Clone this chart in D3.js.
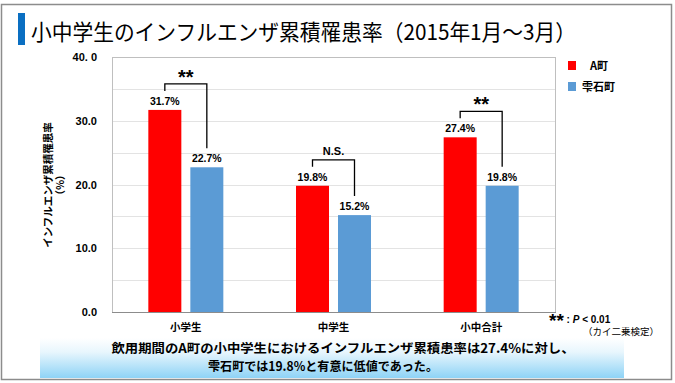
<!DOCTYPE html>
<html>
<head>
<meta charset="utf-8">
<script src="https://cdn.jsdelivr.net/npm/d3@7"></script>
<style>
  body { margin:0; background:#fff; }
  svg text { font-family: "Liberation Sans", Arial, "Noto Sans CJK JP", sans-serif; }
</style>
</head>
<body>
<svg id="chart" width="675" height="383"></svg>
<script>
// ---- data ----
var categories = ["小学生", "中学生", "小中合計"];
var seriesNames = ["A町", "雫石町"];
var townA = [31.7, 19.8, 27.4];
var shizukuishi = [22.7, 15.2, 19.8];
var sigLabels = ["**", "N.S.", "**"];
var yTicks = [0, 10, 20, 30, 40];
var yTickLabels = ["0.0", "10.0", "20.0", "30.0", "40. 0"];
var gridValues = [5, 10, 15, 20, 25, 30, 35];
var colors = ["#ff0000", "#5b9bd5"];

var svg = d3.select("#chart");
var jp = '"Noto Sans CJK JP", "Liberation Sans", sans-serif';

// outer frame
svg.append("rect").attr("x", 1.5).attr("y", 4.5).attr("width", 670).attr("height", 375)
  .attr("fill", "none").attr("stroke", "#8c8c8c").attr("stroke-width", 1.5);

// title
svg.append("rect").attr("x", 18).attr("y", 13).attr("width", 7).attr("height", 32).attr("fill", "#0a6fc2");
svg.append("text").attr("x", 31).attr("y", 40)
  .attr("style", "font-family:" + jp + ";font-size:22px;fill:#000")
  .attr("textLength", 545).attr("lengthAdjust", "spacingAndGlyphs")
  .text("小中学生のインフルエンザ累積罹患率（2015年1月～3月）");

// bottom message box
var defs = svg.append("defs");
var grad = defs.append("linearGradient").attr("id", "msgGrad")
  .attr("x1", "0%").attr("y1", "0%").attr("x2", "0%").attr("y2", "100%");
grad.append("stop").attr("offset", "0").attr("stop-color", "#ffffff");
grad.append("stop").attr("offset", "0.35").attr("stop-color", "#e8f6fd");
grad.append("stop").attr("offset", "1").attr("stop-color", "#8ed3f6");
svg.append("rect").attr("x", 40).attr("y", 338).attr("width", 584).attr("height", 40).attr("fill", "url(#msgGrad)");
svg.append("text").attr("x", 343).attr("y", 352.5).attr("text-anchor", "middle")
  .attr("style", "font-family:" + jp + ";font-size:12.5px;font-weight:bold;fill:#000")
  .attr("textLength", 463).attr("lengthAdjust", "spacingAndGlyphs")
  .text("飲用期間のA町の小中学生におけるインフルエンザ累積患率は27.4%に対し、");
svg.append("text").attr("x", 323).attr("y", 370.5).attr("text-anchor", "middle")
  .attr("style", "font-family:" + jp + ";font-size:12.5px;font-weight:bold;fill:#000")
  .attr("textLength", 230).attr("lengthAdjust", "spacingAndGlyphs")
  .text("雫石町では19.8%と有意に低値であった。");

// plot area
var plot = {left: 112, top: 57, right: 555, bottom: 312};
var x = d3.scaleBand().domain(categories).range([plot.left, plot.right]);
var y = d3.scaleLinear().domain([0, 40]).range([plot.bottom, plot.top]);
var barW = 33, gap = 9;

svg.append("rect").attr("x", plot.left + 0.5).attr("y", plot.top + 0.5)
  .attr("width", plot.right - plot.left).attr("height", plot.bottom - plot.top)
  .attr("fill", "none").attr("stroke", "#bfbfbf");

svg.selectAll(".grid").data(gridValues).enter().append("line")
  .attr("x1", plot.left + 1).attr("x2", plot.right)
  .attr("y1", function(d){ return Math.round(y(d)) + 0.5; })
  .attr("y2", function(d){ return Math.round(y(d)) + 0.5; })
  .attr("stroke", "#e3e3e3");

// y axis labels
var yAxis = d3.axisLeft(y).tickValues(yTicks).tickSize(0).tickPadding(0)
  .tickFormat(function(d, i){ return yTickLabels[i]; });
var gy = svg.append("g").attr("transform", "translate(97,0)").call(yAxis);
gy.select(".domain").remove();
gy.selectAll("text").attr("style", "font-family:'Liberation Sans',Arial,sans-serif;font-size:11px;font-weight:bold;fill:#000");

// y axis title
var yt = svg.append("text").attr("transform", "translate(52,185) rotate(-90)")
  .attr("text-anchor", "middle")
  .attr("style", "font-family:" + jp + ";font-size:10.5px;font-weight:bold;fill:#000");
yt.append("tspan").attr("x", 0).attr("y", 0).text("インフルエンザ累積罹患率");
yt.append("tspan").attr("x", 0).attr("y", 12).text("（%）");

// bars
var series = [townA, shizukuishi];
series.forEach(function(vals, s){
  var g = svg.append("g");
  g.selectAll("rect").data(vals).enter().append("rect")
    .attr("x", function(d, i){
      var c = x(categories[i]) + x.bandwidth() / 2;
      return s === 0 ? c - gap / 2 - barW : c + gap / 2;
    })
    .attr("y", function(d){ return y(d); })
    .attr("width", barW)
    .attr("height", function(d){ return plot.bottom - y(d); })
    .attr("fill", colors[s]);
  g.selectAll("text").data(vals).enter().append("text")
    .attr("x", function(d, i){
      var c = x(categories[i]) + x.bandwidth() / 2;
      return s === 0 ? c - gap / 2 - barW / 2 : c + gap / 2 + barW / 2;
    })
    .attr("y", function(d){ return y(d) - 5; })
    .attr("text-anchor", "middle")
    .attr("style", "font-family:'Liberation Sans',Arial,sans-serif;font-size:10.5px;font-weight:bold;fill:#000")
    .text(function(d){ return d.toFixed(1) + "%"; });
});

// x axis line + labels
svg.append("line").attr("x1", plot.left).attr("x2", plot.right + 1)
  .attr("y1", plot.bottom + 0.5).attr("y2", plot.bottom + 0.5).attr("stroke", "#8c8c8c");
svg.selectAll(".xl").data(categories).enter().append("text")
  .attr("x", function(d){ return x(d) + x.bandwidth() / 2; })
  .attr("y", 331).attr("text-anchor", "middle")
  .attr("style", "font-family:" + jp + ";font-size:10.5px;font-weight:bold;fill:#000")
  .text(function(d){ return d; });

// significance brackets
categories.forEach(function(cat, i){
  var c = x(cat) + x.bandwidth() / 2;
  var xl = c - gap / 2 - barW / 2, xr = c + gap / 2 + barW / 2;
  var yA = y(townA[i]), yB = y(shizukuishi[i]);
  var top = Math.min(yA, yB) - 26;
  svg.append("path")
    .attr("d", "M" + xl + "," + (yA - 19) + " V" + top + " H" + xr + " V" + (yB - 19))
    .attr("fill", "none").attr("stroke", "#000").attr("stroke-width", 1.3);
  var stars = sigLabels[i] === "**";
  svg.append("text").attr("x", c).attr("y", stars ? top : top - 5).attr("text-anchor", "middle")
    .attr("style", "font-family:'Liberation Sans',Arial,sans-serif;font-size:" + (stars ? 20 : 11) + "px;font-weight:bold;fill:#000")
    .text(sigLabels[i]);
});

// legend
seriesNames.forEach(function(name, i){
  svg.append("rect").attr("x", 568).attr("y", 61 + i * 21).attr("width", 8).attr("height", 9).attr("fill", colors[i]);
  svg.append("text").attr("x", i === 0 ? 590 : 582).attr("y", 69.5 + i * 21)
    .attr("style", "font-family:" + jp + ";font-size:11px;font-weight:bold;fill:#000")
    .text(name);
});

// footnote
var fn = svg.append("text").attr("x", 549).attr("y", 323)
  .attr("style", "font-family:'Liberation Sans',Arial,sans-serif;font-size:10px;font-weight:bold;fill:#000");
fn.append("tspan").attr("style", "font-size:19px").attr("dy", 4).text("**");
fn.append("tspan").attr("dy", -4).text(" : ");
fn.append("tspan").attr("font-style", "italic").text("P");
fn.append("tspan").text(" < 0.01");
svg.append("text").attr("x", 583).attr("y", 335)
  .attr("style", "font-family:" + jp + ";font-size:9.5px;fill:#000")
  .text("（カイ二乗検定）");
</script>
</body>
</html>
